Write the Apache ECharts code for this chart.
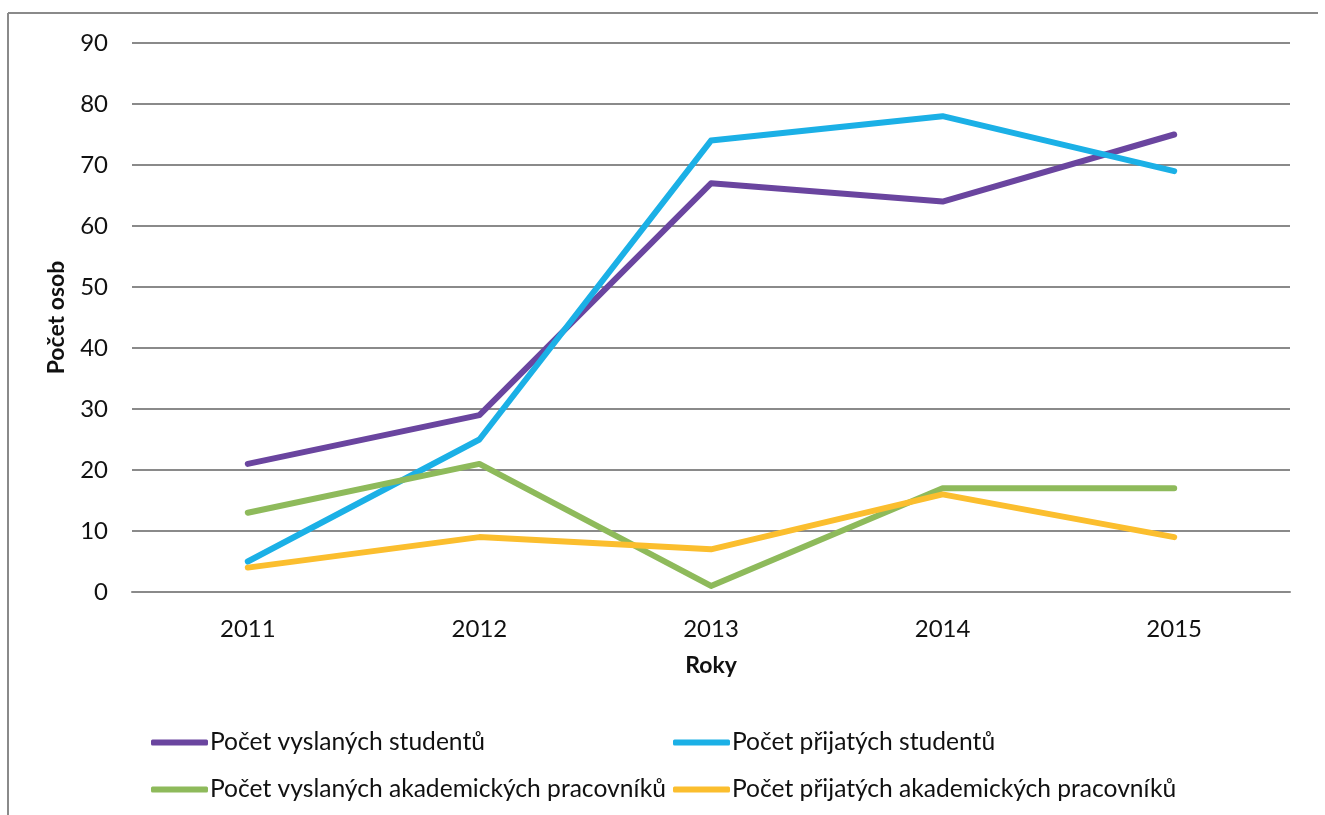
<!DOCTYPE html>
<html>
<head>
<meta charset="utf-8">
<script src="https://cdn.jsdelivr.net/npm/echarts@6/dist/echarts.min.js"></script>
<style>
  html, body { margin: 0; padding: 0; background: #fff; }
  #chart { width: 1325px; height: 815px; }
</style>
</head>
<body>
<div id="chart"></div>
<script>
// roky a hodnoty
var years = ['2011', '2012', '2013', '2014', '2015'];
var vyslaniStudenti = [21, 29, 67, 64, 75];
var prijatiStudenti = [5, 25, 74, 78, 69];
var vyslaniAkademici = [13, 21, 1, 17, 17];
var prijatiAkademici = [4, 9, 7, 16, 9];

var names = [
    'Počet vyslaných studentů',
    'Počet přijatých studentů',
    'Počet vyslaných akademických pracovníků',
    'Počet přijatých akademických pracovníků'
];

var font = 'Lato';
var myChart = echarts.init(document.getElementById('chart'));

function serie(name, data) {
    return {
        name: name,
        type: 'line',
        data: data,
        symbol: 'none',
        lineStyle: { width: 6, cap: 'round', join: 'round' }
    };
}

function legenda(items, left) {
    return {
        data: items,
        orient: 'vertical',
        left: left, top: 725,
        itemGap: 22, itemWidth: 57, itemHeight: 6,
        icon: 'roundRect',
        textStyle: { fontFamily: font, fontSize: 24.6, color: '#111', padding: [0, 0, 0, -3] }
    };
}

myChart.setOption({
    animation: false,
    color: ['#6a459f', '#1bb0e6', '#8eba5b', '#fbbe2e'],
    textStyle: { fontFamily: font },
    grid: { left: 132, right: 35, top: 43, bottom: 223 },
    legend: [
        legenda([names[0], names[2]], 146),
        legenda([names[1], names[3]], 668)
    ],
    graphic: [
        { type: 'line', shape: { x1: 8, y1: 13, x2: 1318, y2: 13 }, style: { stroke: '#8a8a8a', lineWidth: 2 } },
        { type: 'line', shape: { x1: 8, y1: 13, x2: 8, y2: 815 }, style: { stroke: '#8a8a8a', lineWidth: 2 } }
    ],
    xAxis: {
        type: 'category',
        data: years,
        boundaryGap: true,
        name: 'Roky',
        nameLocation: 'middle',
        nameGap: 62,
        nameTextStyle: { fontFamily: font, fontSize: 23, fontWeight: 'bold', color: '#111' },
        axisLine: { lineStyle: { color: '#8a8a8a', width: 2 } },
        axisTick: { show: false },
        axisLabel: { fontFamily: font, fontSize: 24, color: '#111', margin: 25 }
    },
    yAxis: {
        type: 'value',
        min: 0, max: 90, interval: 10,
        name: 'Počet osob',
        nameLocation: 'middle',
        nameGap: 64,
        nameTextStyle: { fontFamily: font, fontSize: 23, fontWeight: 'bold', color: '#111' },
        axisLine: { show: false },
        axisTick: { show: false },
        axisLabel: { fontFamily: font, fontSize: 24, color: '#111', margin: 24 },
        splitLine: { lineStyle: { color: '#8a8a8a', width: 2 } }
    },
    series: [
        serie(names[0], vyslaniStudenti),
        serie(names[1], prijatiStudenti),
        serie(names[2], vyslaniAkademici),
        serie(names[3], prijatiAkademici)
    ]
});
</script>
</body>
</html>
